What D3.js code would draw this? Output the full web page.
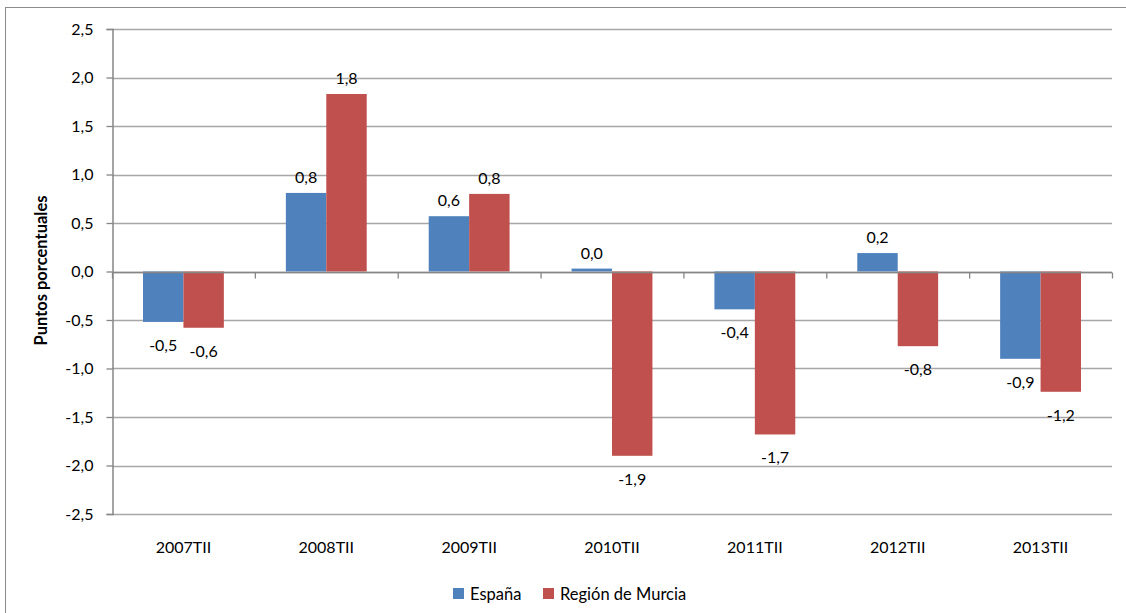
<!DOCTYPE html>
<html>
<head>
<meta charset="utf-8">
<script src="https://cdn.jsdelivr.net/npm/d3@7"></script>
<style>
  body { margin: 0; background: #fff; }
  svg text { font-family: Lato, "Open Sans", sans-serif; fill: #000; }
</style>
</head>
<body>
<svg id="chart" width="1126" height="613"></svg>
<script>
// data
const categories = ['2007TII', '2008TII', '2009TII', '2010TII', '2011TII', '2012TII', '2013TII'];
const seriesNames = ['España', 'Región de Murcia'];
const espana = [-0.52, 0.81, 0.57, 0.03, -0.39, 0.19, -0.90];
const murcia = [-0.58, 1.83, 0.80, -1.90, -1.68, -0.77, -1.24];
const yTicks = [-2.5, -2, -1.5, -1, -0.5, 0, 0.5, 1, 1.5, 2, 2.5];
const colors = ['#4F81BD', '#C0504D'];

const fmt = v => d3.format('.1f')(v).replace('.', ',').replace('−', '-');
const fs = '16px';

const svg = d3.select('#chart');
const margin = { left: 112, right: 14, top: 29, bottom: 99 };
const W = 1126, H = 613;

// outer frame
svg.append('rect')
    .attr('x', 5.5).attr('y', 7.5)
    .attr('width', 1130).attr('height', 620)
    .attr('fill', 'none').attr('stroke', '#8c8c8c');

const x = d3.scaleBand()
    .domain(categories)
    .range([margin.left, W - margin.right])
    .paddingInner(0.434)
    .paddingOuter(0.217);

const x1 = d3.scaleBand()
    .domain(seriesNames)
    .range([0, x.bandwidth()]);

const y = d3.scaleLinear()
    .domain([-2.5, 2.5])
    .range([H - margin.bottom, margin.top]);

// gridlines
svg.append('g')
    .selectAll('line')
    .data(yTicks)
    .join('line')
    .attr('x1', margin.left).attr('x2', W - margin.right)
    .attr('y1', d => Math.round(y(d)) + 0.5).attr('y2', d => Math.round(y(d)) + 0.5)
    .attr('stroke', '#a6a6a6').attr('stroke-width', 1.3);

// y axis
const yAxis = svg.append('g')
    .attr('transform', `translate(${margin.left + 0.5},0)`)
    .call(d3.axisLeft(y).tickValues(yTicks).tickSize(6).tickPadding(13).tickFormat(fmt));
yAxis.select('.domain').attr('stroke', '#868686').attr('stroke-width', 1.5);
yAxis.selectAll('.tick line').attr('stroke', '#868686').attr('stroke-width', 1.3);
yAxis.selectAll('.tick text').style('font-size', fs);

// bars
const rows = categories.map((c, i) => ({ cat: c, vals: [espana[i], murcia[i]] }));
const groups = svg.append('g')
    .selectAll('g')
    .data(rows)
    .join('g')
    .attr('transform', d => `translate(${x(d.cat)},0)`);

groups.selectAll('rect')
    .data(d => d.vals.map((v, k) => ({ v, k })))
    .join('rect')
    .attr('x', d => x1(seriesNames[d.k]))
    .attr('width', x1.bandwidth())
    .attr('y', d => y(Math.max(0, d.v)))
    .attr('height', d => Math.abs(y(d.v) - y(0)))
    .attr('fill', d => colors[d.k]);

groups.selectAll('text')
    .data(d => d.vals.map((v, k) => ({ v, k })))
    .join('text')
    .attr('x', d => x1(seriesNames[d.k]) + x1.bandwidth() / 2)
    .attr('y', d => d.v >= 0 ? y(d.v) - 10 : y(d.v) + 29)
    .attr('text-anchor', 'middle')
    .style('font-size', fs)
    .text(d => fmt(d.v));

// x axis at zero
const xAxis = svg.append('g')
    .attr('transform', `translate(0,${Math.round(y(0)) + 0.5})`);
xAxis.append('line')
    .attr('x1', margin.left).attr('x2', W - margin.right)
    .attr('stroke', '#868686').attr('stroke-width', 1.5);
const step = x.step();
xAxis.selectAll('.tk')
    .data(d3.range(categories.length + 1))
    .join('line')
    .attr('class', 'tk')
    .attr('x1', i => margin.left + 0.5 + i * step).attr('x2', i => margin.left + 0.5 + i * step)
    .attr('y1', 0).attr('y2', 6)
    .attr('stroke', '#868686').attr('stroke-width', 1.3);

// category labels below plot
svg.append('g')
    .selectAll('text')
    .data(categories)
    .join('text')
    .attr('x', d => x(d) + x.bandwidth() / 2)
    .attr('y', 553)
    .attr('text-anchor', 'middle')
    .style('font-size', fs)
    .text(d => d);

// y axis title
svg.append('text')
    .attr('transform', `translate(47,${y(0) - 1}) rotate(-90)`)
    .attr('text-anchor', 'middle')
    .style('font-size', '16.5px')
    .style('font-weight', 'bold')
    .text('Puntos porcentuales');

// legend
const legendX = [453, 543];
const legend = svg.append('g')
    .selectAll('g')
    .data(seriesNames)
    .join('g')
    .attr('transform', (d, i) => `translate(${legendX[i]},588)`);
legend.append('rect')
    .attr('width', 11).attr('height', 11)
    .attr('fill', (d, i) => colors[i]);
legend.append('text')
    .attr('x', 17).attr('y', 11.5)
    .style('font-size', '16.5px')
    .text(d => d);
</script>
</body>
</html>
